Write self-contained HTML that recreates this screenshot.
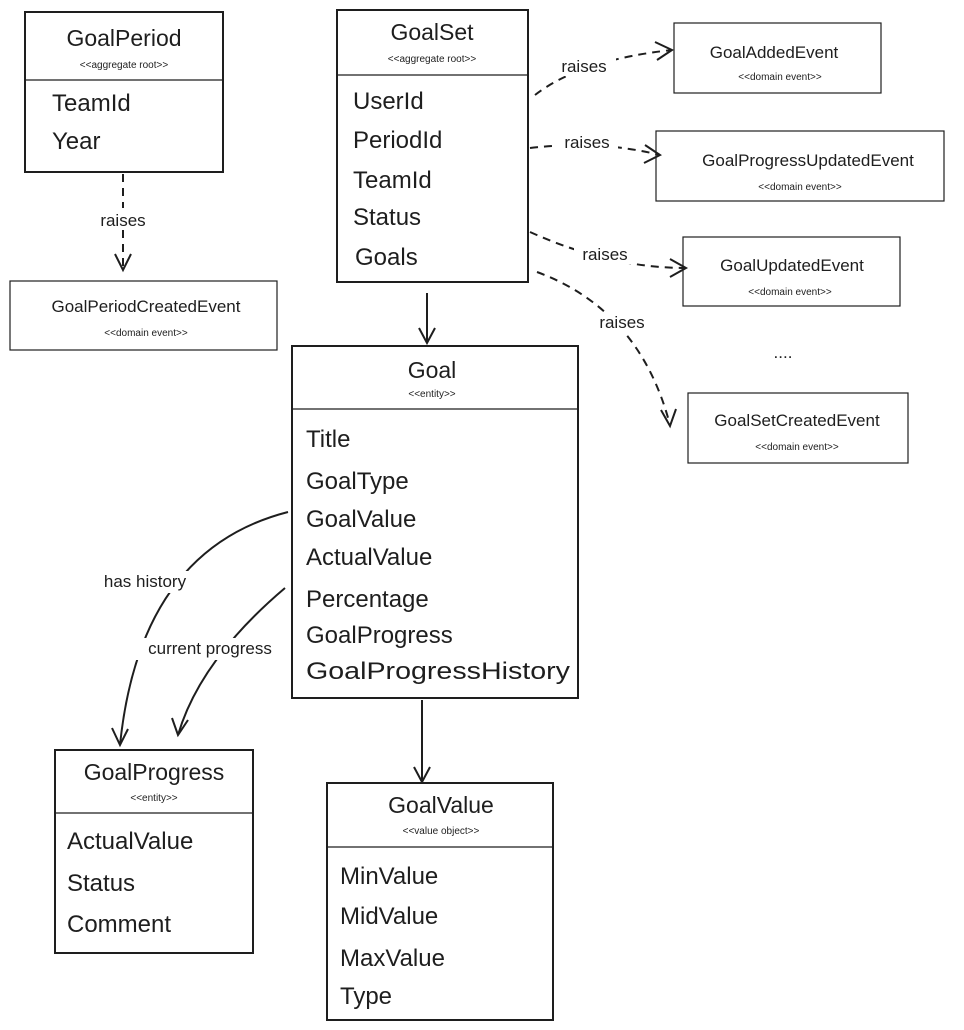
<!DOCTYPE html>
<html><head><meta charset="utf-8"><style>
html,body{margin:0;padding:0;background:#fff;}
svg{display:block;font-family:"Liberation Sans",sans-serif;}
.t{font-size:23px;fill:#1e1e1e;text-anchor:middle}
.s{font-size:10px;fill:#1e1e1e;text-anchor:middle}
.f{font-size:24px;fill:#1e1e1e}
.e{font-size:17px;fill:#1e1e1e;text-anchor:middle}
.l{font-size:17px;fill:#1e1e1e;text-anchor:middle}
.b{fill:#fff;stroke:#1e1e1e;stroke-width:2}
.b1{fill:#fff;stroke:#1e1e1e;stroke-width:1.2}
.d{stroke:#1e1e1e;stroke-width:1.2}
.a{fill:none;stroke:#1e1e1e;stroke-width:2}
.ad{fill:none;stroke:#1e1e1e;stroke-width:2;stroke-dasharray:8 6}
</style></head><body>
<svg width="964" height="1030" viewBox="0 0 964 1030">
<!-- GoalPeriod -->
<rect class="b" x="25" y="12" width="198" height="160"/>
<line class="d" x1="25" y1="80" x2="223" y2="80"/>
<text class="t" x="124" y="46">GoalPeriod</text>
<text class="s" x="124" y="68">&lt;&lt;aggregate root&gt;&gt;</text>
<text class="f" x="52" y="111">TeamId</text>
<text class="f" x="52" y="149">Year</text>
<!-- GoalPeriodCreatedEvent -->
<rect class="b1" x="10" y="281" width="267" height="69"/>
<text class="e" x="146" y="312">GoalPeriodCreatedEvent</text>
<text class="s" x="146" y="336">&lt;&lt;domain event&gt;&gt;</text>
<path class="ad" d="M123 174 L123 266"/>
<path class="a" d="M115 254 L123 270 L131 254"/>
<rect x="92" y="208" width="62" height="22" fill="#fff"/>
<text class="l" x="123" y="226">raises</text>
<!-- GoalSet -->
<rect class="b" x="337" y="10" width="191" height="272"/>
<line class="d" x1="337" y1="75" x2="528" y2="75"/>
<text class="t" x="432" y="40">GoalSet</text>
<text class="s" x="432" y="62">&lt;&lt;aggregate root&gt;&gt;</text>
<text class="f" x="353" y="109">UserId</text>
<text class="f" x="353" y="148">PeriodId</text>
<text class="f" x="353" y="188">TeamId</text>
<text class="f" x="353" y="225">Status</text>
<text class="f" x="355" y="265">Goals</text>
<!-- events -->
<rect class="b1" x="674" y="23" width="207" height="70"/>
<text class="e" x="774" y="58">GoalAddedEvent</text>
<text class="s" x="780" y="80">&lt;&lt;domain event&gt;&gt;</text>
<rect class="b1" x="656" y="131" width="288" height="70"/>
<text class="e" x="808" y="166">GoalProgressUpdatedEvent</text>
<text class="s" x="800" y="190">&lt;&lt;domain event&gt;&gt;</text>
<rect class="b1" x="683" y="237" width="217" height="69"/>
<text class="e" x="792" y="271">GoalUpdatedEvent</text>
<text class="s" x="790" y="295">&lt;&lt;domain event&gt;&gt;</text>
<text class="e" x="783" y="358">....</text>
<rect class="b1" x="688" y="393" width="220" height="70"/>
<text class="e" x="797" y="426">GoalSetCreatedEvent</text>
<text class="s" x="797" y="450">&lt;&lt;domain event&gt;&gt;</text>
<!-- raises arrows -->
<path class="ad" d="M535 95 Q580 60 672 50"/>
<path class="a" d="M655 42 L672 50 L657 60"/>
<rect x="554" y="56" width="62" height="20" fill="#fff"/>
<text class="l" x="584" y="72">raises</text>
<path class="ad" d="M530 148 Q600 140 660 155"/>
<path class="a" d="M645 145 L660 155 L644 163"/>
<rect x="556" y="132" width="62" height="20" fill="#fff"/>
<text class="l" x="587" y="148">raises</text>
<path class="ad" d="M530 232 Q610 268 686 268"/>
<path class="a" d="M670 259 L686 268 L670 277"/>
<rect x="574" y="244" width="62" height="20" fill="#fff"/>
<text class="l" x="605" y="260">raises</text>
<path class="ad" d="M537 272 Q640 310 670 425"/>
<path class="a" d="M661 410 L670 426 L676 409"/>
<rect x="592" y="312" width="62" height="20" fill="#fff"/>
<text class="l" x="622" y="328">raises</text>
<!-- GoalSet -> Goal -->
<path class="a" d="M427 293 L427 343"/>
<path class="a" d="M419 328 L427 343 L435 328"/>
<!-- Goal -->
<rect class="b" x="292" y="346" width="286" height="352"/>
<line class="d" x1="292" y1="409" x2="578" y2="409"/>
<text class="t" x="432" y="378">Goal</text>
<text class="s" x="432" y="397">&lt;&lt;entity&gt;&gt;</text>
<text class="f" x="306" y="447">Title</text>
<text class="f" x="306" y="489">GoalType</text>
<text class="f" x="306" y="527">GoalValue</text>
<text class="f" x="306" y="565">ActualValue</text>
<text class="f" x="306" y="607">Percentage</text>
<text class="f" x="306" y="643">GoalProgress</text>
<text class="f" x="306" y="679" textLength="264" lengthAdjust="spacingAndGlyphs">GoalProgressHistory</text>
<!-- Goal -> GoalValue -->
<path class="a" d="M422 700 L422 782"/>
<path class="a" d="M414 767 L422 782 L430 767"/>
<!-- has history -->
<path class="a" d="M288 512 Q140 550 120 745"/>
<path class="a" d="M112 728 L120 745 L128 729"/>
<rect x="88" y="571" width="116" height="22" fill="#fff"/>
<text class="l" x="145" y="587">has history</text>
<!-- current progress -->
<path class="a" d="M285 588 Q200 660 178 735"/>
<path class="a" d="M172 718 L178 735 L188 720"/>
<rect x="130" y="638" width="160" height="22" fill="#fff"/>
<text class="l" x="210" y="654">current progress</text>
<!-- GoalProgress -->
<rect class="b" x="55" y="750" width="198" height="203"/>
<line class="d" x1="55" y1="813" x2="253" y2="813"/>
<text class="t" x="154" y="780">GoalProgress</text>
<text class="s" x="154" y="801">&lt;&lt;entity&gt;&gt;</text>
<text class="f" x="67" y="849">ActualValue</text>
<text class="f" x="67" y="891">Status</text>
<text class="f" x="67" y="932">Comment</text>
<!-- GoalValue -->
<rect class="b" x="327" y="783" width="226" height="237"/>
<line class="d" x1="327" y1="847" x2="553" y2="847"/>
<text class="t" x="441" y="813">GoalValue</text>
<text class="s" x="441" y="834">&lt;&lt;value object&gt;&gt;</text>
<text class="f" x="340" y="884">MinValue</text>
<text class="f" x="340" y="924">MidValue</text>
<text class="f" x="340" y="966">MaxValue</text>
<text class="f" x="340" y="1004">Type</text>
</svg>
</body></html>
